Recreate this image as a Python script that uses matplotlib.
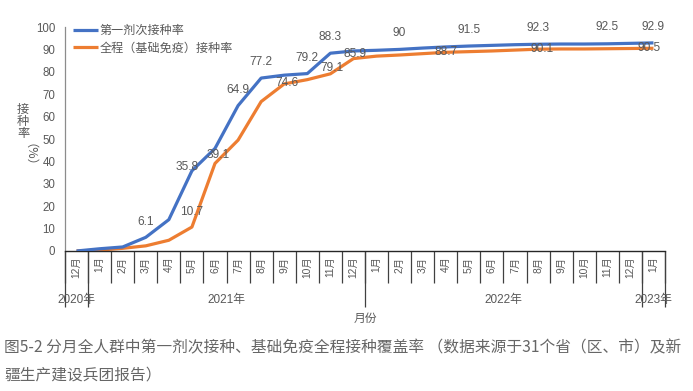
import matplotlib
matplotlib.use("Agg")
import matplotlib.pyplot as plt
import numpy as np

plt.rcParams['font.family'] = ['Liberation Sans', 'Noto Sans CJK SC']

# ---------------- data ----------------
months = ["12月",
          "1月", "2月", "3月", "4月", "5月", "6月", "7月", "8月", "9月", "10月", "11月", "12月",
          "1月", "2月", "3月", "4月", "5月", "6月", "7月", "8月", "9月", "10月", "11月", "12月",
          "1月"]
years = ["2020年", "2021年", "2022年", "2023年"]
year_counts = [1, 12, 12, 1]

first_dose = [0, 1.0, 1.8, 6.1, 14.0, 35.8, 45.8, 64.9, 77.2, 78.5, 79.2, 88.3, 89.3,
              89.6, 90.0, 90.6, 91.1, 91.5, 91.8, 92.1, 92.3, 92.4, 92.4, 92.5, 92.7,
              92.9]
full_course = [0, 0.4, 1.2, 2.3, 4.8, 10.7, 39.1, 49.5, 66.7, 74.6, 76.5, 79.1, 85.9,
               87.0, 87.5, 88.1, 88.7, 89.0, 89.3, 89.7, 90.1, 90.2, 90.2, 90.3, 90.4,
               90.5]

series_names = ["第一剂次接种率", "全程（基础免疫）接种率"]

# labelled points (index into months) and label offsets in points
first_labels = [3, 5, 7, 8, 10, 11, 14, 17, 20, 23, 25]
first_offsets = [(0, 11), (-3.5, 3), (0, 11), (0, 11.5), (0, 11), (0, 11.5),
                 (0, 11.5), (0, 11.5), (0, 11.5), (0, 12), (0, 11.5)]
full_labels = [5, 6, 9, 11, 12, 16, 20, 25]
full_offsets = [(0, 11), (2, 6), (2, 0.5), (1, 4), (1, 3.5), (0.5, 0), (3, 0), (-3, 0)]

caption1 = "图5-2 分月全人群中第一剂次接种、基础免疫全程接种覆盖率 （数据来源于31个省（区、市）及新"
caption2 = "疆生产建设兵团报告）"

BLUE = "#4472C4"
ORANGE = "#ED7D31"
GRAY = "#595959"

# ---------------- figure ----------------
W, H = 693, 391
fig = plt.figure(figsize=(W / 100, H / 100), dpi=100)
ax = fig.add_axes([65 / W, 1 - 251 / H, 600 / W, 224 / H])

n = len(months)
x = np.arange(n) + 0.5

ax.plot(x, first_dose, color=BLUE, lw=2.3, label=series_names[0], zorder=3,
        solid_capstyle='butt', solid_joinstyle='round')
ax.plot(x, full_course, color=ORANGE, lw=2.3, label=series_names[1], zorder=2,
        solid_capstyle='butt', solid_joinstyle='round')

for i, (dx, dy) in zip(first_labels, first_offsets):
    ax.annotate(f"{first_dose[i]:g}", (x[i], first_dose[i]), xytext=(dx, dy),
                textcoords='offset points', ha='center', va='center',
                fontsize=8.6, color=GRAY, zorder=5)
for i, (dx, dy) in zip(full_labels, full_offsets):
    ax.annotate(f"{full_course[i]:g}", (x[i], full_course[i]), xytext=(dx, dy),
                textcoords='offset points', ha='center', va='center',
                fontsize=8.6, color=GRAY, zorder=5)

ax.set_xlim(0, n)
ax.set_ylim(0, 100)
ax.set_yticks(np.arange(0, 101, 10))
ax.tick_params(axis='y', length=0, pad=7, labelsize=8.3, labelcolor=GRAY)

ax.set_xticks(x)
ax.set_xticklabels(months, rotation=90, fontsize=7.4, color=GRAY)
ax.tick_params(axis='x', which='major', length=0, pad=4)
ax.set_xticks(np.arange(n + 1), minor=True)
ax.tick_params(axis='x', which='minor', length=23, width=0.9, color='#404040',
               direction='out')

for s in ['top', 'right']:
    ax.spines[s].set_visible(False)
ax.spines['left'].set_color('#8c8c8c')
ax.spines['left'].set_linewidth(0.9)
ax.spines['bottom'].set_color('#262626')
ax.spines['bottom'].set_linewidth(1.0)

# group separators and year labels
bounds = np.concatenate([[0], np.cumsum(year_counts)])
ax.vlines(bounds, -56 / 224, 0, transform=ax.get_xaxis_transform(),
          colors='#404040', lw=0.9, clip_on=False)
for k, yr in enumerate(years):
    cx = (bounds[k] + bounds[k + 1]) / 2
    ax.text(cx, -49 / 224, yr, transform=ax.get_xaxis_transform(),
            ha='center', va='center', fontsize=8.5, color=GRAY)

ax.text(0.5, -68 / 224, "月份", transform=ax.transAxes, ha='center', va='center',
        fontsize=8.5, color=GRAY)

# y label (vertical text)
fig.text(23 / W, 1 - 122 / H, "接\n种\n率", ha='center', va='center',
         fontsize=8.8, color=GRAY, linespacing=1.05)
fig.text(23 / W, 1 - 161 / H, "（%）", ha='center', va='center', rotation=-90,
         fontsize=8.8, color=GRAY, family=['Noto Sans CJK SC'])

leg = ax.legend(loc='upper left', bbox_to_anchor=(8 / 600, 1 + 2 / 224),
                frameon=False, fontsize=8.7, handlelength=2.1, handletextpad=0.1,
                labelspacing=0.45, borderpad=0, borderaxespad=0)
for t in leg.get_texts():
    t.set_color(GRAY)

# caption
fig.text(4 / W, 1 - 348 / H, caption1, ha='left', va='center', fontsize=11.3,
         color='#666666', family=['Noto Sans CJK SC', 'DejaVu Sans'])
fig.text(4 / W, 1 - 375 / H, caption2, ha='left', va='center', fontsize=11.3,
         color='#666666', family=['Noto Sans CJK SC', 'DejaVu Sans'])

fig.savefig("out.png", dpi=100)
